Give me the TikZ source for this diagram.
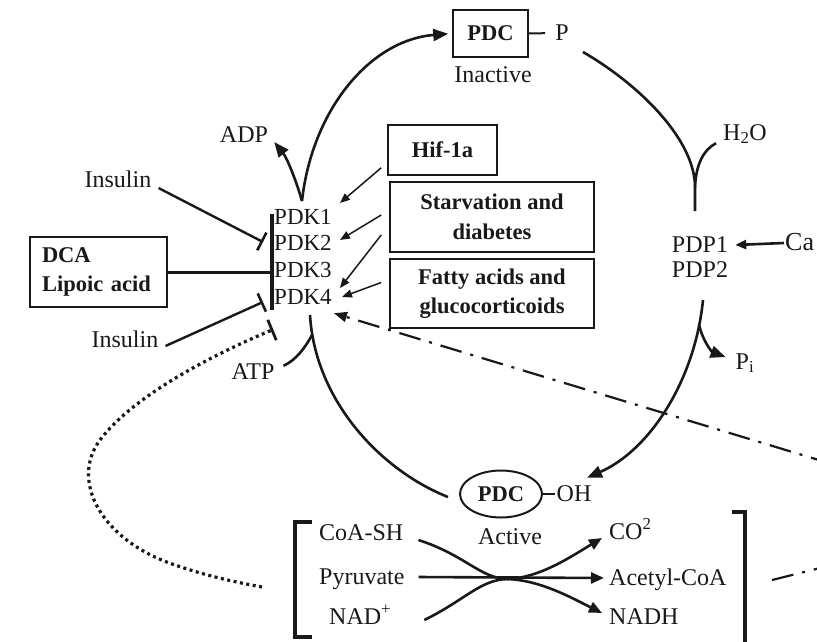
\documentclass[tikz,border=0pt]{standalone}
\usepackage{fontspec}
\setmainfont{Liberation Serif}
\usetikzlibrary{arrows.meta,calc,shapes.geometric}
\definecolor{ink}{gray}{0.1}
\begin{document}
\begin{tikzpicture}[x=1pt,y=-1pt,
  every node/.style={text=ink},
  lbl/.style={font=\fontsize{24}{28}\selectfont, inner sep=1pt, text height=17pt, text depth=3pt},
  pdk/.style={font=\fontsize{23}{27}\selectfont, inner sep=1pt, text height=17pt, text depth=3pt},
  bbox/.style={draw=ink, line width=1.6pt, font=\fontsize{22.5}{29.5}\selectfont\bfseries, align=center, inner sep=0pt},
  main/.style={draw=ink, line width=2.6pt},
  bigtip/.style={-{Triangle[length=15pt,width=12pt]}},
  medtip/.style={-{Triangle[length=13pt,width=11pt]}},
  sarrow/.style={draw=ink, line width=1.5pt, -{Triangle[length=10pt,width=8pt]}},
  inh/.style={draw=ink, line width=2.4pt, -{Bar[width=20pt,line width=2.6pt]}},
  dashdot/.style={draw=ink, line width=2.2pt, dash pattern=on 22pt off 9pt on 3pt off 9pt},
  dotline/.style={draw=ink, line width=3.2pt, dash pattern=on 3pt off 3.5pt},
]
\useasboundingbox (0,0) rectangle (817,641);
\fill[white] (0,0) rectangle (817,641);
\clip (0,0) rectangle (817,641);

% boxes
\node[bbox, minimum width=75pt, minimum height=47pt] (inact) at (490.5,33.5) {PDC};
\node[bbox, minimum width=109pt, minimum height=50pt] (hif) at (442.5,150) {Hif-1a};
\node[bbox, minimum width=204pt, minimum height=70pt] (starv) at (492,217) {Starvation and\\diabetes};
\node[bbox, minimum width=204pt, minimum height=69pt] (fatty) at (492,293.5) {Fatty acids and\\glucocorticoids};
\node[bbox, align=left, text width=113pt, inner xsep=12pt, minimum height=70pt] (dca) at (98.5,272) {DCA\\Lipoic acid};
\node[ellipse, draw=ink, line width=2pt, minimum width=82pt, minimum height=47pt, inner sep=0pt,
      font=\fontsize{22.5}{27}\selectfont\bfseries] (pdcA) at (501,494) {PDC};

% labels
\node[lbl] (P) at (562,33) {P};
\node[lbl] (inactlbl) at (493,75) {Inactive};
\node[lbl] (adp) at (244,135) {ADP};
\node[lbl] (h2o) at (745,133) {H\textsubscript{2}O};
\node[lbl] (ins1) at (118,180) {Insulin};
\node[lbl] (ins2) at (125,340) {Insulin};
\node[pdk] (pdk1) at (303,217) {PDK1};
\node[pdk] (pdk2) at (303,243) {PDK2};
\node[pdk] (pdk3) at (303,270) {PDK3};
\node[pdk] (pdk4) at (303,297) {PDK4};
\node[lbl] (pdp1) at (700,245) {PDP1};
\node[lbl] (pdp2) at (700,270) {PDP2};
\node[lbl, anchor=west, font=\fontsize{26}{30}\selectfont] (ca) at (784,243) {Ca};
\node[lbl] (atp) at (253,372) {ATP};
\node[lbl] (pi) at (745,362) {P\textsubscript{i}};
\node[lbl] (oh) at (574,494) {OH};
\node[lbl] (act) at (510,537) {Active};
\node[lbl, anchor=west] (coa) at (318,533) {CoA-SH};
\node[lbl, anchor=west] (pyr) at (318,577) {Pyruvate};
\node[lbl, anchor=west] (nad) at (328,617) {NAD\textsuperscript{+}};
\node[lbl, anchor=west] (co2) at (608,532) {CO\textsuperscript{2}};
\node[lbl, anchor=west] (acoa) at (608,578) {Acetyl-CoA};
\node[lbl, anchor=west] (nadh) at (608,617) {NADH};

% inhibition bar beside the PDK isoforms
\node[fill=ink, minimum width=3.2pt, minimum height=96pt, inner sep=0pt] (bar) at (272,262) {};

% junction and free-end points
\coordinate (kin) at (302,201);
\coordinate (r0) at (583,52);
\coordinate (hj) at (695,187);
\coordinate (r1) at (695,211);
\coordinate (d0) at (703,300);
\coordinate (pj) at (699,324);
\coordinate (a0) at (448,497);
\coordinate (atop) at (310,315);
\coordinate (aj) at (312,335);
\coordinate (t1) at (263,242);
\coordinate (t2) at (263,302);
\coordinate (dotS) at (262,587);
\coordinate (dotC) at (200,360);
\coordinate (dotE) at (272,330);
\coordinate (ddR) at (832,464);
\coordinate (ddB0) at (772,580);
\coordinate (ddB1) at (840,563);

% phosphorylation cycle
\draw[main, bigtip, shorten >=4pt] (kin) .. controls (312,110) and (370,40) .. (inact.west);
\draw[main, bigtip] (kin) .. controls (296,180) and (287,158) .. ([shift={(5,7)}]adp.east);
\draw[draw=ink, line width=2pt, shorten >=9pt] (inact.east) -- (P.west);
\draw[main] (r0) .. controls (640,85) and (695,140) .. (hj) -- (r1);
\draw[main] (hj) .. controls (696,165) and (703,150) .. ([shift={(-6,-1)}]h2o.south west);
\draw[main, -{Triangle[length=11pt,width=9pt]}] (ca.west) -- ([xshift=6pt]pdp1.east);
\draw[main, bigtip] (d0) .. controls (695,380) and (650,450) .. ([shift={(13,-5)}]oh.north);
\draw[main, bigtip] (pj) .. controls (702,340) and (712,352) .. ([shift={(-9,-5)}]pi.west);
\draw[draw=ink, line width=2pt] (pdcA.east) -- (oh.west);
\draw[main] (a0) .. controls (380,470) and (315,400) .. (atop);
\draw[main] (aj) .. controls (305,348) and (296,360) .. ([shift={(8,5)}]atp.north east);

% regulators
\draw[inh] ([shift={(6,8)}]ins1.east) -- (t1);
\draw[inh] ([shift={(6,6)}]ins2.east) -- (t2);
\draw[draw=ink, line width=3pt] (dca.east) -- (dca.east -| bar.west);
\draw[sarrow] ([shift={(-6,-8)}]hif.south west) -- ([shift={(7,-14)}]pdk1.east);
\draw[sarrow] ([shift={(-8,-2)}]starv.west) -- ([shift={(7,-3)}]pdk2.east);
\draw[sarrow] ([shift={(-8,18)}]starv.west) -- ([shift={(7,-9)}]pdk4.east);
\draw[sarrow] ([shift={(-8,-11)}]fatty.west) -- ([shift={(9,0)}]pdk4.east);

% feedback loops
\draw[dotline] (dotS) .. controls (240,583) and (210,577) .. (175,565)
   .. controls (100,540) and (70,480) .. (100,440) .. controls (130,400) and (dotC) .. (dotE);
\draw[draw=ink, line width=2.8pt] ($(dotE)!11pt!90:(dotC)$) -- ($(dotE)!11pt!-90:(dotC)$);
\draw[dashdot, -{Triangle[length=13pt,width=10pt]}] (ddR) -- ([shift={(1,5)}]pdk4.south east);
\draw[dashdot] (ddB0) -- (ddB1);

% reaction catalysed by active PDC
\draw[draw=ink, line width=3.5pt] (312,522) -- (295,522) -- (295,637) -- (312,637);
\draw[draw=ink, line width=3.5pt] (732,512) -- (745,512) -- (745,650);
\draw[main, medtip] ([shift={(13,0)}]pyr.east) -- ([xshift=-4pt]acoa.west);
\draw[main, medtip] ([shift={(14,7)}]coa.east) .. controls (465,555) and (480,578) .. (507,579)
   .. controls (540,580) and (572,598) .. ([shift={(-6,-4)}]nadh.west);
\draw[main, medtip] ([shift={(32,3)}]nad.east) .. controls (465,600) and (480,580) .. (507,579)
   .. controls (540,578) and (572,556) .. ([shift={(-6,6)}]co2.west);
\end{tikzpicture}
\end{document}
